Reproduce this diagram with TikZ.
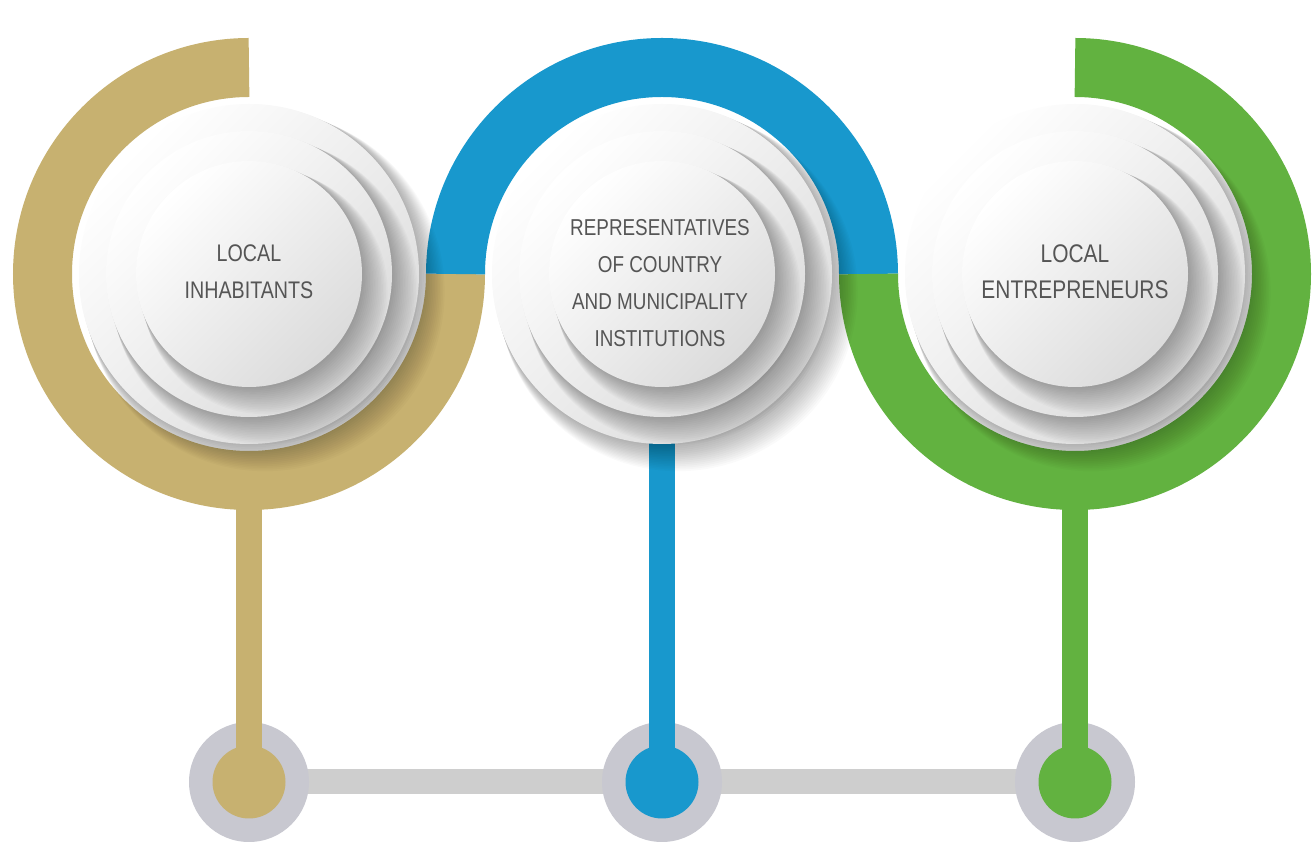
\documentclass[tikz,border=0pt]{standalone}
\usepackage{fontspec}
\setmainfont{Liberation Sans}[FakeStretch=0.82]
\definecolor{tanC}{RGB}{199,177,112}
\definecolor{blueC}{RGB}{24,152,205}
\definecolor{greenC}{RGB}{98,178,64}
\definecolor{ringgray}{RGB}{200,200,208}
\definecolor{bargray}{RGB}{206,206,206}
\definecolor{textgray}{RGB}{85,85,85}
\tikzset{
  ringband/.style={line width=59pt},
  stemline/.style={line width=26pt},
  barline/.style={line width=25pt, bargray},
  grayring/.style={circle, fill=ringgray, minimum size=120pt, inner sep=0pt},
  dotnode/.style={circle, minimum size=73pt, inner sep=0pt},
  labeltext/.style={align=center, text=textgray, inner sep=0pt},
}
\begin{document}
\begin{tikzpicture}[x=1pt,y=1pt]
\useasboundingbox (0,0) rectangle (1315,843);
\fill[white] (0,0) rectangle (1315,843);
\coordinate (c1) at (249,569);
\coordinate (c2) at (662,569);
\coordinate (c3) at (1075,569);
% coloured rings
\draw[ringband, tanC] (c1) ++(90:206.5) arc[start angle=90, end angle=360, radius=206.5];
\draw[ringband, blueC] (c2) ++(0:206.5) arc[start angle=0, end angle=180, radius=206.5];
\draw[ringband, greenC] (c3) ++(180:206.5) arc[start angle=180, end angle=450, radius=206.5];
% bottom connectors
\coordinate (b1) at (249,61);
\coordinate (b2) at (662,61);
\coordinate (b3) at (1075,61);
\draw[barline] (b1) -- (b3);
\node[grayring] (g1) at (b1) {};
\node[grayring] (g2) at (b2) {};
\node[grayring] (g3) at (b3) {};
\coordinate (s1) at (249,336);
\coordinate (s3) at (1075,336);
\node[dotnode, fill=tanC] (d1) at (b1) {};
\node[dotnode, fill=blueC] (d2) at (b2) {};
\node[dotnode, fill=greenC] (d3) at (b3) {};
\draw[stemline, tanC] (s1) -- (d1.center);
\draw[stemline, blueC] (c2) -- (d2.center);
\draw[stemline, greenC] (s3) -- (d3.center);
% layered discs
\foreach \c in {c1,c2,c3} {
  \foreach \R in {170,143,113} {
    \foreach \k in {1,...,16}
      \fill[black, opacity=0.02] ([shift={(\k*1.0,-\k*1.1)}]\c) circle ({\R+\k*0.6});
    \shade[top color=white, middle color=white, bottom color=black!14, shading angle=45] (\c) circle (\R);
  }
}
% labels
\node[labeltext, font=\fontsize{24}{37}\selectfont] (t1) at (249,571) {LOCAL\\INHABITANTS};
\node[labeltext, font=\fontsize{23}{37}\selectfont] (t2) at (660,560) {REPRESENTATIVES\\OF COUNTRY\\AND MUNICIPALITY\\INSTITUTIONS};
\node[labeltext, font=\fontsize{25.5}{36}\selectfont] (t3) at (1075,571) {LOCAL\\ENTREPRENEURS};
\end{tikzpicture}
\end{document}
